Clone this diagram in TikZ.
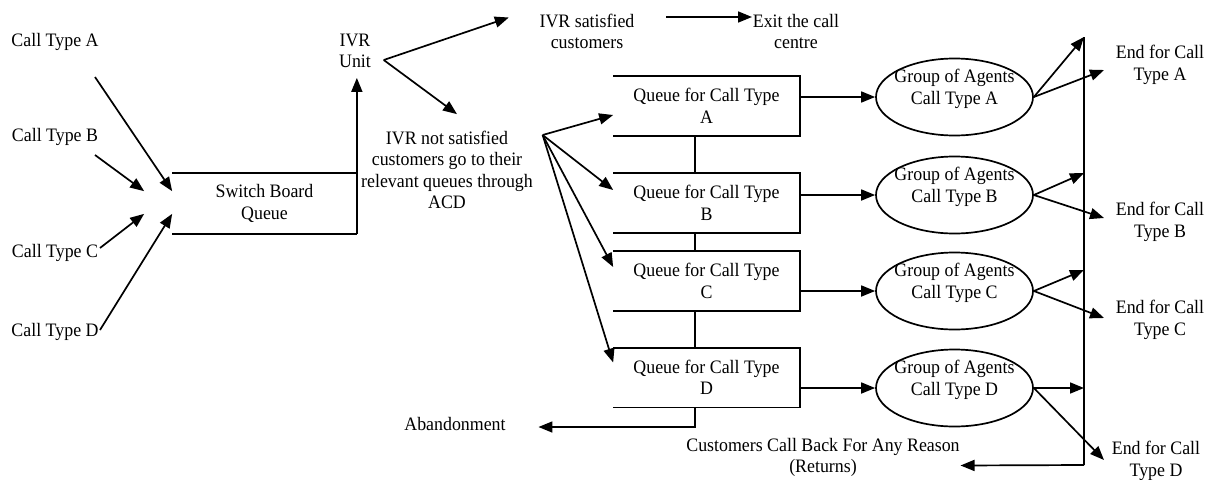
\documentclass[tikz,border=0pt]{standalone}
\usepackage{fontspec}
\setmainfont{Liberation Serif}[FakeStretch=0.94]
\usetikzlibrary{arrows.meta,shapes.geometric,calc}
\begin{document}
\begin{tikzpicture}[x=1pt,y=-1pt,line width=1.7pt,
  every node/.style={font=\fontsize{19}{21.5}\selectfont,align=center,inner sep=0pt},
  arr/.style={-{Triangle[length=14pt,width=11pt]}},
  qbox/.style={minimum width=185pt,minimum height=58pt},
  agent/.style={ellipse,draw,minimum width=157pt,minimum height=77pt}]
\fill[white] (0,0) rectangle (1214,479);
\useasboundingbox (0,0) rectangle (1214,479);

% incoming call types
\node (ctA) at (55,42) {Call Type A};
\node (ctB) at (55,137) {Call Type B};
\node (ctC) at (55,253) {Call Type C};
\node (ctD) at (55,332) {Call Type D};

% switch board queue (open on the left)
\node[minimum width=183pt,minimum height=59pt] (sb) at (264.5,203.5) {Switch Board\\Queue};
\draw (sb.north west) -- (sb.north east);
\draw (sb.south west) -- (sb.south east);

\draw[arr] ($(ctA)+(40,35)$) -- ($(sb.north west)+(0,18)$);
\draw[arr] ($(ctB)+(40,18)$) -- ($(sb.north west)+(-28,18)$);
\draw[arr] ($(ctC)+(45,-5)$) -- ($(sb.south west)+(-28,-20)$);
\draw[arr] ($(ctD)+(45,-2)$) -- ($(sb.south west)+(0,-20)$);

% IVR
\node (ivr) at (355,51) {IVR\\Unit};
\coordinate (ivrIn) at ($(ivr.south)+(0,9)$);
\draw[arr] (sb.south east) -- (sb.south east |- ivrIn);

\node (ivrS) at (587,31.5) {IVR satisfied\\customers};
\node (exit) at (796,31.5) {Exit the call\\centre};
\node (nsat) at (447,170) {IVR not satisfied\\customers go to their\\relevant queues through\\ACD};

\coordinate (ivrOut) at ($(ivr.east)+(12,9)$);
\draw[arr] (ivrOut) -- ($(ivrS.west)+(-30,-14)$);
\draw[arr] (ivrOut) -- ($(nsat.north)+(10,-16)$);
\draw[arr] ($(ivrS.east)+(31,-14.5)$) -- ($(exit.west)+(0,-14.5)$);

% queues per call type
\node[qbox] (qA) at (706.5,106) {Queue for Call Type\\A};
\node[qbox] (qB) at (706.5,203) {Queue for Call Type\\B};
\node[qbox] (qC) at (706.5,281) {Queue for Call Type\\C};
\node[qbox] (qD) at (706.5,377.5) {Queue for Call Type\\D};
\foreach \q in {qA,qB,qC,qD}
  \draw (\q.north west) -- (\q.north east) -- (\q.south east) -- (\q.south west);
\draw ($(qA.south)+(-11.5,0)$) -- ($(qB.north)+(-11.5,0)$);
\draw ($(qB.south)+(-11.5,0)$) -- ($(qC.north)+(-11.5,0)$);
\draw ($(qC.south)+(-11.5,0)$) -- ($(qD.north)+(-11.5,0)$);

% ACD distribution
\coordinate (fan) at ($(nsat.east)+(9,-35)$);
\draw[arr] (fan) -- ($(qA.west)+(0,9)$);
\draw[arr] (fan) -- ($(qB.west)+(0,-13)$);
\draw[arr] (fan) -- ($(qC.west)+(0,-14)$);
\draw[arr] (fan) -- ($(qD.west)+(0,-15)$);

% abandonment
\node (abd) at (455,424) {Abandonment};
\draw[arr] ($(qD.south)+(-11.5,0)$) |- ($(abd.east)+(32,3)$);

% agent groups
\node[agent] (gA) at (954.5,97) {};
\node[agent] (gB) at (954.5,195) {};
\node[agent] (gC) at (954.5,291) {};
\node[agent] (gD) at (954.5,388) {};
\node (tA) at ($(gA)+(0,-8)$) {Group of Agents\\Call Type A};
\node (tB) at ($(gB)+(0,-8)$) {Group of Agents\\Call Type B};
\node (tC) at ($(gC)+(0,-8)$) {Group of Agents\\Call Type C};
\node (tD) at ($(gD)+(0,-8)$) {Group of Agents\\Call Type D};

\draw[arr] (qA.east |- gA.west) -- (gA.west);
\draw[arr] (qB.east |- gB.west) -- (gB.west);
\draw[arr] (qC.east |- gC.west) -- (gC.west);
\draw[arr] (qD.east |- gD.west) -- (gD.west);

% call ends
\node (eA) at (1160,65) {End for Call\\Type A};
\node (eB) at (1160,222) {End for Call\\Type B};
\node (eC) at (1160,320) {End for Call\\Type C};
\node (eD) at (1156,461) {End for Call\\Type D};

% returns bus
\coordinate (busTop) at (1084,37);
\coordinate (busBot) at (1084,465);
\node (ret) at (823,457.5) {Customers Call Back For Any Reason\\(Returns)};
\draw (busTop) -- (busBot);
\draw[arr] (busBot) -- ($(ret.east)+(0,8)$);

\draw[arr] (gA.east) -- (busTop);
\draw[arr] (gB.east) -- ($(gB.east -| busTop)+(0,-22)$);
\draw[arr] (gC.east) -- ($(gC.east -| busTop)+(0,-21)$);
\draw[arr] (gD.east) -- (gD.east -| busTop);

\draw[arr] (gA.east) -- ($(eA.west)+(-11,5)$);
\draw[arr] (gB.east) -- ($(eB.west)+(-11,-4)$);
\draw[arr] (gC.east) -- ($(eC.west)+(-11,-2)$);
\draw[arr] (gD.east) -- ($(eD.west)+(-7,-1)$);
\end{tikzpicture}
\end{document}
